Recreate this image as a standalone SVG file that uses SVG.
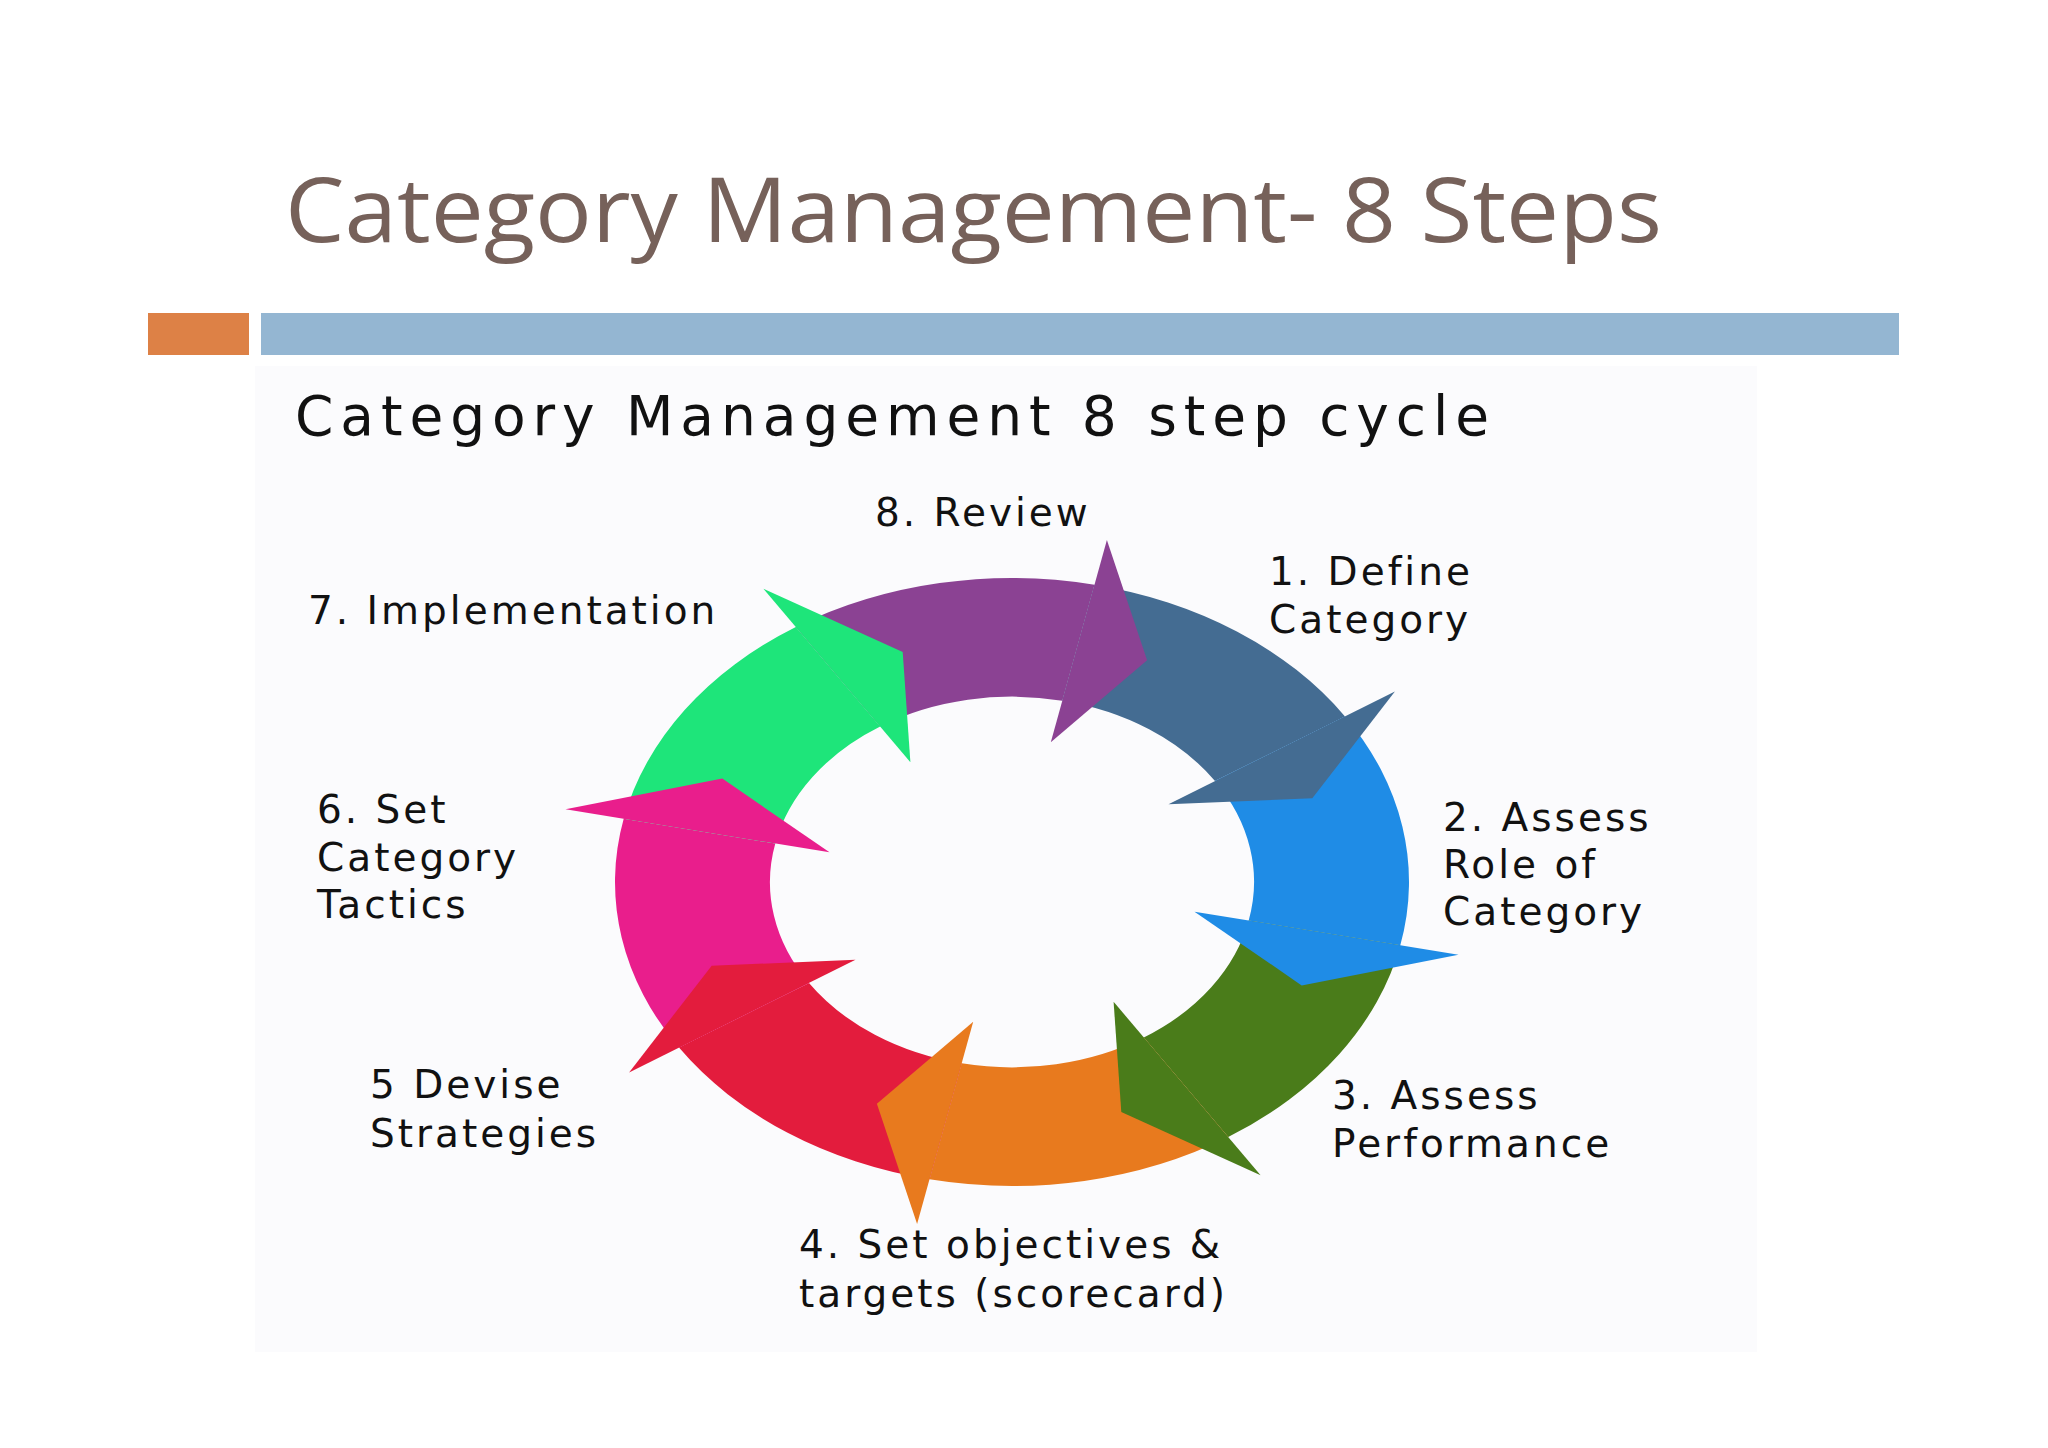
<svg xmlns="http://www.w3.org/2000/svg" width="2048" height="1448" viewBox="0 0 2048 1448">
<style>
.t{font-family:"DejaVu Sans",sans-serif;font-size:39px;fill:#111;letter-spacing:3px}
</style>
<rect width="2048" height="1448" fill="#fff"/>
<rect x="255" y="366" width="1502" height="986" fill="#fbfbfd"/>
<text x="285" y="242" font-family="Open Sans, sans-serif" font-size="90" fill="#76615a" textLength="1377" lengthAdjust="spacingAndGlyphs">Category Management- 8 Steps</text>
<rect x="148" y="313" width="101" height="42" fill="#dd8146"/>
<rect x="261" y="313" width="1638" height="42" fill="#94b6d2"/>
<text x="295" y="435" font-family="DejaVu Sans, sans-serif" font-size="55" fill="#111" textLength="1194" lengthAdjust="spacing">Category Management 8 step cycle</text>
<g id="connectors">
<g id="bodies">
<path fill="#8b4293" d="M795.8,627 A397 304 0 0 1 1094.5,584.7 L1062.3,700.7 A242 185 0 0 0 880.2,726.5 Z"/>
<path fill="#446c92" d="M1094.5,584.7 A397 304 0 0 1 1345,716.4 L1215,781 A242 185 0 0 0 1062.3,700.7 Z"/>
<path fill="#1f8ce6" d="M1345,716.4 A397 304 0 0 1 1400.3,945.2 L1248.7,920.5 A242 185 0 0 0 1215,781 Z"/>
<path fill="#4a7c1a" d="M1400.3,945.2 A397 304 0 0 1 1228.2,1137 L1143.8,1037.5 A242 185 0 0 0 1248.7,920.5 Z"/>
<path fill="#e87a1e" d="M1228.2,1137 A397 304 0 0 1 929.5,1179.3 L961.7,1063.3 A242 185 0 0 0 1143.8,1037.5 Z"/>
<path fill="#e31c3d" d="M929.5,1179.3 A397 304 0 0 1 679,1047.6 L809,983 A242 185 0 0 0 961.7,1063.3 Z"/>
<path fill="#e91e8c" d="M679,1047.6 A397 304 0 0 1 623.7,818.8 L775.3,843.5 A242 185 0 0 0 809,983 Z"/>
<path fill="#1ee57a" d="M623.7,818.8 A397 304 0 0 1 795.8,627 L880.2,726.5 A242 185 0 0 0 775.3,843.5 Z"/>
</g>
<g id="heads">
<polygon fill="#8b4293" points="1106.9,540 1050.8,742.2 1147.1,660.2"/>
<polygon fill="#446c92" points="1394.9,691.6 1168.5,804.2 1312.3,798.3"/>
<polygon fill="#1f8ce6" points="1458.5,954.7 1194.5,911.7 1301.7,985.4"/>
<polygon fill="#4a7c1a" points="1260.6,1175.2 1113.6,1001.8 1121.3,1111.9"/>
<polygon fill="#e87a1e" points="917.1,1224 973.2,1021.8 876.9,1103.8"/>
<polygon fill="#e31c3d" points="629.1,1072.4 855.5,959.8 711.7,965.7"/>
<polygon fill="#e91e8c" points="565.5,809.3 829.5,852.3 722.3,778.6"/>
<polygon fill="#1ee57a" points="763.4,588.8 910.4,762.2 902.7,652.1"/>
</g>
</g>
<g id="n8"><text class="t" x="875" y="526">8. Review</text></g>
<g id="n1"><text class="t" x="1269" y="585">1. Define</text><text class="t" x="1269" y="633">Category</text></g>
<g id="n7"><text class="t" x="308" y="624">7. Implementation</text></g>
<g id="n2"><text class="t" x="1443" y="831">2. Assess</text><text class="t" x="1443" y="878">Role of</text><text class="t" x="1443" y="925">Category</text></g>
<g id="n6"><text class="t" x="317" y="823">6. Set</text><text class="t" x="317" y="871">Category</text><text class="t" x="317" y="918">Tactics</text></g>
<g id="n3"><text class="t" x="1332" y="1109">3. Assess</text><text class="t" x="1332" y="1157">Performance</text></g>
<g id="n5"><text class="t" x="370" y="1098">5 Devise</text><text class="t" x="370" y="1147">Strategies</text></g>
<g id="n4"><text class="t" x="799" y="1258">4. Set objectives &amp;</text><text class="t" x="799" y="1307">targets (scorecard)</text></g>
</svg>
